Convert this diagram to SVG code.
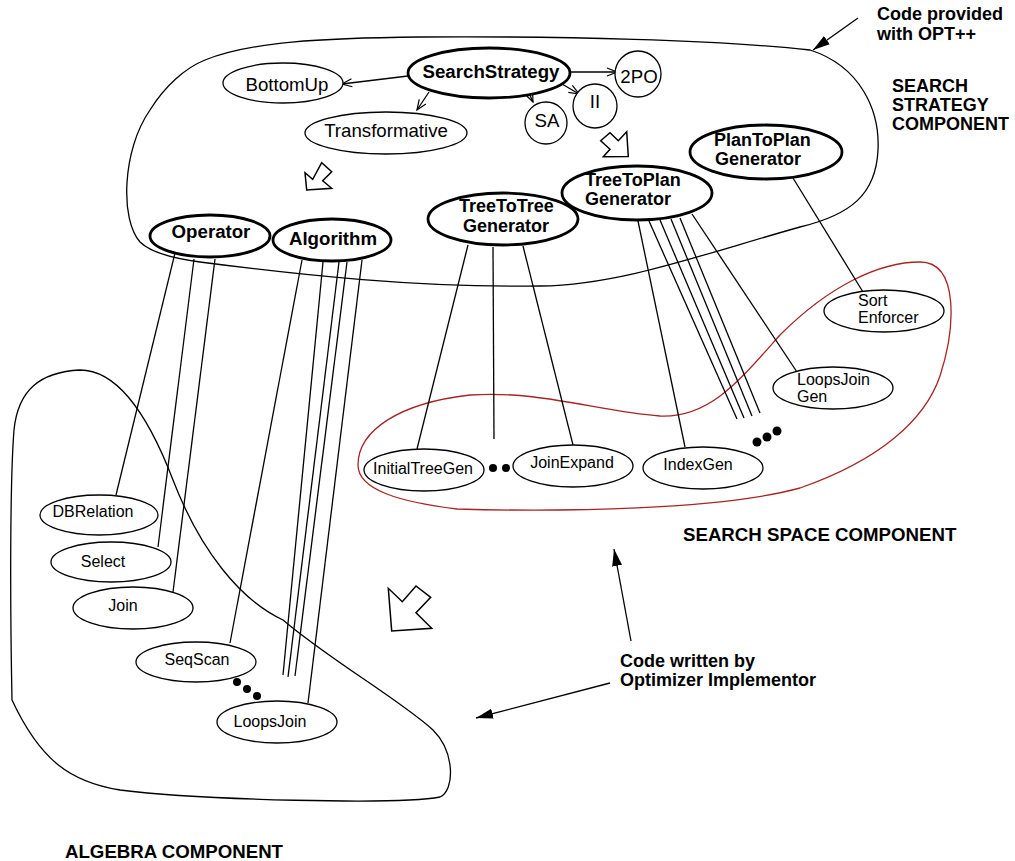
<svg xmlns="http://www.w3.org/2000/svg" width="1015" height="861" viewBox="0 0 1015 861">
  <style>
    text { font-family: "Liberation Sans", Arial, sans-serif; fill: #000; }
    .big { font-size: 18.67px; }
    .bold { font-size: 18.67px; font-weight: bold; }
    .stack { font-size: 18px; font-weight: bold; }
    .small { font-size: 16px; }
    .mid { text-anchor: middle; }
    .thick { fill: #fff; stroke: #000; stroke-width: 2.8; }
    .thin { fill: #fff; stroke: #000; stroke-width: 1.3; }
    .region { fill: none; stroke: #000; stroke-width: 1.3; }
    .red { fill: none; stroke: #a82424; stroke-width: 1.3; }
    .link { fill: none; stroke: #000; stroke-width: 1.3; }
    .hollow { fill: #fff; stroke: #000; stroke-width: 1.5; stroke-linejoin: miter; }
    .dot { fill: #000; }
  </style>
  <defs>
    <marker id="open" markerWidth="12" markerHeight="10" refX="11" refY="5" orient="auto" markerUnits="userSpaceOnUse">
      <path d="M1,1 L11,5 L1,9" fill="none" stroke="#000" stroke-width="1.2"/>
    </marker>
    <marker id="solid" markerWidth="18" markerHeight="12" refX="17" refY="6" orient="auto" markerUnits="userSpaceOnUse">
      <path d="M0,1 L17,6 L0,11 Z" fill="#000"/>
    </marker>
  </defs>

  <rect width="1015" height="861" fill="#fff"/>

  <!-- component outlines -->
  <g id="regions">
    <path class="region" d="M140,242 C120,220 122,150 150,110 C165,86 185,68 205,60 C250,42 320,38 420,37 C560,36 720,40 810,50 C860,66 880,110 878,150 C876,195 850,215 800,227 C700,255 620,285 540,286 C420,288 300,275 200,262 C170,258 150,252 140,242 Z"/>
    <path class="red" d="M457,509 C400,502 358,490 358,465 C358,430 400,403 470,395 C540,390 600,412 660,416 C710,418 740,380 780,335 C830,285 880,262 920,262 C960,262 955,330 940,376 C925,420 880,460 800,488 C720,510 560,512 457,509 Z"/>
    <path class="region" d="M12,700 C10,600 10,480 14,430 C18,390 40,372 80,370 C120,370 150,420 173,480 C200,550 240,600 283,620 C330,660 400,700 433,730 C455,752 455,790 440,797 C400,805 200,800 120,790 C70,782 40,760 12,700 Z"/>
  </g>

  <!-- connectors -->
  <g id="connectors">
    <line class="link" x1="408" y1="76" x2="342" y2="84" marker-end="url(#open)"/>
    <line class="link" x1="429" y1="92" x2="417" y2="110" marker-end="url(#open)"/>
    <line class="link" x1="529" y1="93" x2="533" y2="102" marker-end="url(#open)"/>
    <line class="link" x1="562" y1="84" x2="579" y2="94" marker-end="url(#open)"/>
    <line class="link" x1="570" y1="72" x2="617" y2="72" marker-end="url(#open)"/>

    <line class="link" x1="175" y1="253" x2="116" y2="495"/>
    <line class="link" x1="194" y1="259" x2="158" y2="547"/>
    <line class="link" x1="215" y1="259" x2="173" y2="592"/>

    <line class="link" x1="302" y1="260" x2="230" y2="643"/>
    <line class="link" x1="323" y1="262" x2="283" y2="675"/>
    <line class="link" x1="339" y1="262" x2="288" y2="677"/>
    <line class="link" x1="347" y1="262" x2="295" y2="676"/>
    <line class="link" x1="362" y1="260" x2="308" y2="703"/>

    <line class="link" x1="468" y1="245" x2="417" y2="449"/>
    <line class="link" x1="493" y1="247" x2="494" y2="439"/>
    <line class="link" x1="523" y1="246" x2="573" y2="445"/>

    <line class="link" x1="638" y1="221" x2="685" y2="447"/>
    <line class="link" x1="649" y1="221" x2="737" y2="419"/>
    <line class="link" x1="660" y1="220" x2="744" y2="418"/>
    <line class="link" x1="671" y1="219" x2="752" y2="416"/>
    <line class="link" x1="680" y1="218" x2="760" y2="413"/>
    <line class="link" x1="692" y1="214" x2="797" y2="372"/>

    <line class="link" x1="793" y1="178" x2="863" y2="292"/>

    <!-- annotation pointers -->
    <line class="link" x1="858" y1="18" x2="813" y2="50" stroke-width="2" marker-end="url(#solid)"/>
    <line class="link" x1="631" y1="641" x2="614" y2="549" stroke-width="2" marker-end="url(#solid)"/>
    <line class="link" x1="610" y1="683" x2="476" y2="718" stroke-width="2" marker-end="url(#solid)"/>
  </g>

  <!-- hollow block arrows -->
  <g id="block-arrows">
    <polygon class="hollow" points="306.7,190 305,172.7 312.7,179.3 321.7,162.7 331.7,171.7 322.7,180.7 331.7,188.3"/>
    <polygon class="hollow" points="628.3,156.5 626.7,131.7 618.3,140.7 610,132.7 600.7,140.7 610,149.3 603.3,156.7"/>
    <polygon class="hollow" points="391.7,631 388.3,588.3 402.3,601.7 416,586 430.7,597.3 416,612.7 431.7,628.3"/>
  </g>

  <!-- search strategy nodes -->
  <g id="SearchStrategy">
    <ellipse class="thick" cx="489" cy="73" rx="81" ry="25"/>
    <text class="bold mid" x="491" y="78">SearchStrategy</text>
  </g>
  <g id="BottomUp">
    <ellipse class="thin" cx="283" cy="83" rx="60" ry="20"/>
    <text class="big mid" x="287" y="91">BottomUp</text>
  </g>
  <g id="Transformative">
    <ellipse class="thin" cx="386" cy="133" rx="81" ry="21"/>
    <text class="big mid" x="386" y="137">Transformative</text>
  </g>
  <g id="SA">
    <circle class="thin" cx="546" cy="123" r="21"/>
    <text class="big mid" x="547" y="127">SA</text>
  </g>
  <g id="II">
    <circle class="thin" cx="595" cy="106" r="22"/>
    <text class="big mid" x="595" y="108">II</text>
  </g>
  <g id="TwoPO">
    <circle class="thin" cx="638" cy="74" r="23"/>
    <text class="big mid" x="639" y="83">2PO</text>
  </g>

  <!-- search space generators -->
  <g id="PlanToPlanGenerator">
    <ellipse class="thick" cx="766" cy="152" rx="76" ry="27"/>
    <text class="stack" x="714" y="146">PlanToPlan</text>
    <text class="stack" x="715" y="165">Generator</text>
  </g>
  <g id="TreeToTreeGenerator">
    <ellipse class="thick" cx="503" cy="219" rx="75" ry="26"/>
    <text class="stack" x="459" y="212">TreeToTree</text>
    <text class="stack" x="463" y="232">Generator</text>
  </g>
  <g id="TreeToPlanGenerator">
    <ellipse class="thick" cx="637" cy="193" rx="75" ry="27"/>
    <text class="stack" x="585" y="186">TreeToPlan</text>
    <text class="stack" x="585" y="205">Generator</text>
  </g>

  <!-- algebra classes -->
  <g id="Operator">
    <ellipse class="thick" cx="210" cy="236" rx="60" ry="21"/>
    <text class="bold mid" x="211" y="238">Operator</text>
  </g>
  <g id="Algorithm">
    <ellipse class="thick" cx="332" cy="240" rx="59" ry="21"/>
    <text class="bold mid" x="333" y="245">Algorithm</text>
  </g>

  <!-- search space members -->
  <g id="SortEnforcer">
    <ellipse class="thin" cx="884" cy="311" rx="60" ry="21"/>
    <text class="small" x="858" y="306">Sort</text>
    <text class="small" x="858" y="323">Enforcer</text>
  </g>
  <g id="LoopsJoinGen">
    <ellipse class="thin" cx="833" cy="388" rx="60" ry="21"/>
    <text class="small" x="797" y="385">LoopsJoin</text>
    <text class="small" x="797" y="402">Gen</text>
  </g>
  <g id="InitialTreeGen">
    <ellipse class="thin" cx="424" cy="470" rx="60" ry="21"/>
    <text class="small mid" x="423" y="474">InitialTreeGen</text>
  </g>
  <g id="JoinExpand">
    <ellipse class="thin" cx="573" cy="466" rx="60" ry="21"/>
    <text class="small mid" x="572" y="468">JoinExpand</text>
  </g>
  <g id="IndexGen">
    <ellipse class="thin" cx="703" cy="468" rx="60" ry="21"/>
    <text class="small mid" x="698" y="470">IndexGen</text>
  </g>
  <g id="more-generators">
    <circle class="dot" cx="493" cy="468" r="4"/>
    <circle class="dot" cx="506" cy="468" r="4"/>
    <circle class="dot" cx="757" cy="442" r="4.5"/>
    <circle class="dot" cx="767" cy="437" r="4.5"/>
    <circle class="dot" cx="777" cy="431" r="4.5"/>
  </g>

  <!-- algebra members -->
  <g id="DBRelation">
    <ellipse class="thin" cx="99" cy="515" rx="59" ry="20"/>
    <text class="small mid" x="93" y="517">DBRelation</text>
  </g>
  <g id="Select">
    <ellipse class="thin" cx="111" cy="562" rx="60" ry="20"/>
    <text class="small mid" x="103" y="567">Select</text>
  </g>
  <g id="Join">
    <ellipse class="thin" cx="133" cy="608" rx="60" ry="21"/>
    <text class="small mid" x="123" y="611">Join</text>
  </g>
  <g id="SeqScan">
    <ellipse class="thin" cx="196" cy="662" rx="60" ry="20"/>
    <text class="small mid" x="197" y="665">SeqScan</text>
  </g>
  <g id="LoopsJoin">
    <ellipse class="thin" cx="277" cy="722" rx="60" ry="21"/>
    <text class="small mid" x="270" y="727">LoopsJoin</text>
  </g>
  <g id="more-algorithms">
    <circle class="dot" cx="237" cy="682" r="4"/>
    <circle class="dot" cx="247" cy="689" r="4"/>
    <circle class="dot" cx="257" cy="696" r="4"/>
  </g>

  <!-- captions -->
  <g id="captions">
    <text class="stack" x="877" y="20">Code provided</text>
    <text class="stack" x="877" y="40">with OPT++</text>
    <text class="stack" x="892" y="92">SEARCH</text>
    <text class="stack" x="892" y="111">STRATEGY</text>
    <text class="stack" x="892" y="130">COMPONENT</text>
    <text class="bold" x="683" y="541">SEARCH SPACE COMPONENT</text>
    <text class="stack" x="620" y="667">Code written by</text>
    <text class="stack" x="620" y="686">Optimizer Implementor</text>
    <text class="bold" x="65" y="858">ALGEBRA COMPONENT</text>
  </g>
</svg>
